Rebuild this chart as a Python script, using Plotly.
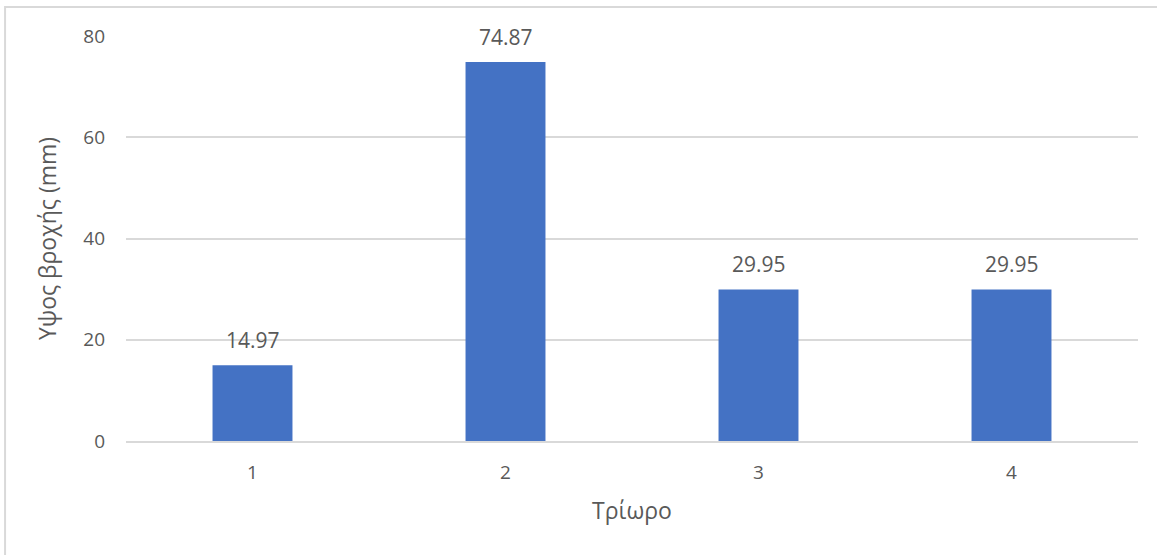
import plotly.graph_objects as go

# Rainfall per three-hour period
periods = ["1", "2", "3", "4"]
rainfall_mm = [14.97, 74.87, 29.95, 29.95]
y_ticks = [0, 20, 40, 60, 80]

FONT = "Open Sans"
TEXT_GRAY = "#595959"
GRID_GRAY = "#d9d9d9"
BAR_BLUE = "#4472C4"

fig = go.Figure()
fig.add_trace(go.Bar(
    x=periods,
    y=rainfall_mm,
    marker=dict(color=BAR_BLUE, line=dict(width=0)),
    hoverinfo="x+y",
))

# value labels above each bar (x given as category index)
for i, v in enumerate(rainfall_mm):
    fig.add_annotation(
        x=i, y=v, text=f"{v:.2f}", showarrow=False,
        yshift=25, yanchor="middle",
        font=dict(family=FONT, size=21, color=TEXT_GRAY),
    )

# light frame around the chart area
fig.add_shape(
    type="rect", xref="paper", yref="paper",
    x0=-0.1195, x1=1.05, y0=-0.45, y1=1.0716,
    line=dict(color=GRID_GRAY, width=2), fillcolor="rgba(0,0,0,0)",
    layer="below",
)

fig.update_layout(
    width=1157, height=555,
    margin=dict(l=126, r=19, t=36, b=114),
    paper_bgcolor="white", plot_bgcolor="white",
    bargap=0.684,
    showlegend=False,
    font=dict(family=FONT, size=19, color=TEXT_GRAY),
    xaxis=dict(
        type="category",
        range=[-0.5, 3.5],
        showgrid=False,
        showline=True, linecolor=GRID_GRAY, linewidth=2,
        ticks="", ticklabelstandoff=13,
        tickfont=dict(family=FONT, size=19, color=TEXT_GRAY),
        title=dict(text="Τρίωρο", font=dict(family=FONT, size=23, color=TEXT_GRAY), standoff=19),
    ),
    yaxis=dict(
        range=[0, 80],
        tickvals=y_ticks,
        showgrid=True, gridcolor=GRID_GRAY, gridwidth=1.5,
        zeroline=False,
        showline=False,
        ticks="", ticklabelstandoff=20,
        tickfont=dict(family=FONT, size=19, color=TEXT_GRAY),
        title=dict(text="Υψος βροχής (mm)", font=dict(family=FONT, size=23, color=TEXT_GRAY), standoff=20),
    ),
)

fig.write_html("out.html")
